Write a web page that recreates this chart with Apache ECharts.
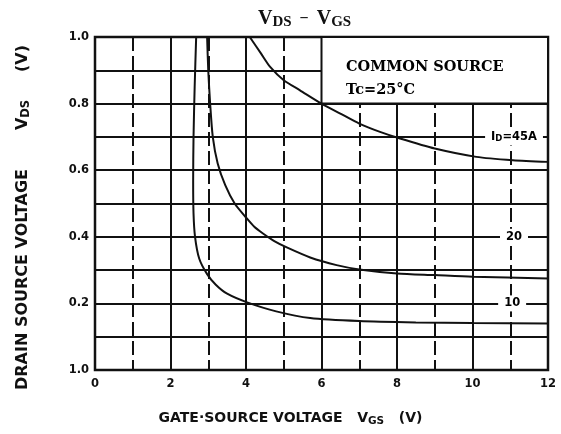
<!DOCTYPE html>
<html>
<head>
<meta charset="utf-8">
<script src="https://cdn.jsdelivr.net/npm/echarts@6/dist/echarts.min.js"></script>
<style>html,body{margin:0;padding:0;background:#fff;}#c{width:561px;height:434px;}</style>
</head>
<body>
<div id="c"></div>
<script>
// ---- data ----
const xTickValues = [0, 2, 4, 6, 8, 10, 12];
const yTickLabels = ['1.0', '0.2', '0.4', '0.6', '0.8', '1.0']; // as printed (bottom label reads "1.0")

const curve45A = [[4.1,1.0],[4.4,0.95],[4.64,0.91],[5.0,0.87],[5.43,0.84],[6.0,0.80],[6.5,0.77],[7.0,0.74],[7.55,0.715],[8.08,0.695],[9.0,0.665],[10.1,0.64],[11.07,0.63],[12.0,0.625]];
const curve20A = [[2.97,1.0],[3.0,0.9],[3.05,0.8],[3.12,0.7],[3.25,0.62],[3.45,0.555],[3.7,0.5],[4.0,0.458],[4.22,0.43],[4.45,0.41],[4.75,0.387],[5.08,0.368],[5.7,0.338],[6.4,0.315],[7.0,0.302],[8.0,0.29],[9.0,0.285],[10.0,0.28],[12.0,0.275]];
const curve10A = [[2.68,1.0],[2.64,0.85],[2.61,0.7],[2.6,0.57],[2.61,0.47],[2.65,0.40],[2.76,0.335],[2.97,0.288],[3.2,0.256],[3.5,0.229],[4.03,0.203],[4.8,0.176],[5.7,0.156],[7.0,0.147],[8.5,0.143],[10.0,0.141],[12.0,0.14]];

const curveLabelText = ['{i|I}{s|D}{i|=45A}', '{i|20}', '{i|10}'];
const curveLabelX = [11.1, 11.1, 11.05];
const curveLabelY = [0.7, 0.4, 0.2];

const noteBoxX = [6, 12];
const noteBoxY = [0.8, 1.0];
const noteLines = ['COMMON SOURCE', 'Tc=25°C'];
const notePos = [6.65, 0.875];

const chart = echarts.init(document.getElementById('c'));
const font = '"DejaVu Sans", "Liberation Sans", Arial, sans-serif';
const serif = '"DejaVu Serif", "Liberation Serif", serif';
const tserif = '"Liberation Serif", "DejaVu Serif", serif';

function curveSeries(data) {
  return {
    type: 'line', data: data, smooth: 0.25, symbol: 'none',
    lineStyle: { color: '#111', width: 2 }, z: 5, silent: true
  };
}

chart.setOption({
  animation: false,
  backgroundColor: '#fff',
  title: {
    text: '{v|V}{s|DS}{m|  −  }{v|V}{s|GS}',
    left: 253, top: 2,
    textStyle: {
      rich: {
        v: { fontFamily: tserif, fontSize: 20, color: '#111' },
        s: { fontFamily: tserif, fontSize: 15, color: '#111', verticalAlign: 'bottom', padding: [8, 0, 0, 0] },
        m: { fontFamily: tserif, fontSize: 16, color: '#111' }
      }
    }
  },
  grid: { left: 95, right: 13, top: 37, bottom: 64, show: true, borderColor: '#111', borderWidth: 2.5, backgroundColor: 'transparent' },
  xAxis: {
    type: 'value', min: 0, max: 12, interval: 2,
    name: '{b|GATE·SOURCE VOLTAGE   V}{s|GS}{b|   (V)}',
    nameLocation: 'middle', nameGap: 40,
    nameTextStyle: { padding: [0, 62, 0, 0], rich: {
      b: { fontFamily: font, fontWeight: 'bold', fontSize: 14, color: '#111' },
      s: { fontFamily: font, fontWeight: 'bold', fontSize: 10.5, color: '#111', padding: [6, 0, 0, 0] } } },
    axisLine: { show: false }, axisTick: { show: false },
    axisLabel: { margin: 8, fontFamily: font, fontWeight: 'bold', fontSize: 11.5, color: '#111',
      formatter: v => xTickValues.indexOf(v) >= 0 ? String(v) : '' },
    splitLine: { show: true, lineStyle: { color: '#111', width: 2 } },
    minorTick: { show: false, splitNumber: 2 },
    minorSplitLine: { show: true, lineStyle: { color: '#111', width: 2, type: [14, 5] } }
  },
  yAxis: {
    type: 'value', min: 0, max: 1, interval: 0.2,
    name: '{b|DRAIN SOURCE VOLTAGE       V}{s|DS}{b|     (V)}',
    nameLocation: 'middle', nameGap: 63, nameRotate: 90,
    nameTextStyle: { padding: [0, 28, 0, 0], rich: {
      b: { fontFamily: font, fontWeight: 'bold', fontSize: 16, color: '#111' },
      s: { fontFamily: font, fontWeight: 'bold', fontSize: 11.5, color: '#111', padding: [7, 0, 0, 0] } } },
    axisLine: { show: false }, axisTick: { show: false },
    axisLabel: { margin: 6, fontFamily: font, fontWeight: 'bold', fontSize: 11.5, color: '#111',
      formatter: v => { const i = Math.round(v / 0.2); return yTickLabels[i] || ''; } },
    splitLine: { show: true, lineStyle: { color: '#111', width: 2 } },
    minorTick: { show: false, splitNumber: 2 },
    minorSplitLine: { show: true, lineStyle: { color: '#111', width: 2 } }
  },
  series: [
    {
      type: 'line', data: [], symbol: 'none', silent: true, z: 3,
      markArea: {
        silent: true,
        itemStyle: { color: '#fff', borderColor: '#111', borderWidth: 2 },
        label: { show: false },
        data: [[{ xAxis: noteBoxX[0], yAxis: noteBoxY[1] }, { xAxis: noteBoxX[1], yAxis: noteBoxY[0] }]]
      }
    },
    curveSeries(curve45A),
    curveSeries(curve20A),
    curveSeries(curve10A),
    {
      type: 'scatter', symbolSize: 0, silent: true, z: 6,
      itemStyle: { opacity: 1 },
      data: [{ value: notePos, name: noteLines.join('\n') }],
      label: {
        show: true, position: 'right', distance: 0, formatter: p => p.name,
        color: '#000', textBorderWidth: 0, lineHeight: 23, align: 'left',
        fontFamily: serif, fontWeight: 'bold', fontSize: 14.5
      }
    },
    {
      type: 'scatter', symbolSize: 0, silent: true, z: 6,
      itemStyle: { opacity: 1 },
      data: curveLabelX.map((x, i) => ({ value: [x, curveLabelY[i]], name: curveLabelText[i] })),
      label: {
        show: true, position: 'inside', formatter: p => p.name,
        color: '#000', textBorderWidth: 0,
        backgroundColor: '#fff', padding: [2, 6, 2, 6],
        rich: {
          i: { fontFamily: font, fontWeight: 'bold', fontSize: 11.5, color: '#000', textBorderWidth: 0 },
          s: { fontFamily: font, fontWeight: 'bold', fontSize: 8.5, color: '#000', textBorderWidth: 0, padding: [4, 0, 0, 0] }
        }
      }
    }
  ]
});
</script>
</body>
</html>
